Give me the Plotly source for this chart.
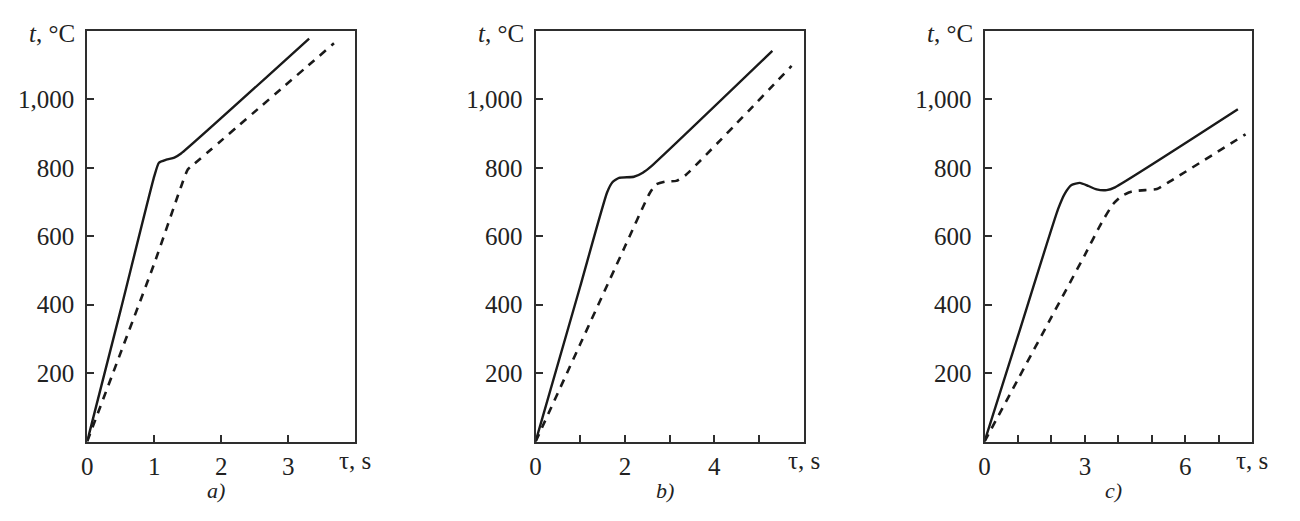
import plotly.graph_objects as go

# ---- data (tau in s, t in °C) ----
a_solid_x = [0, 0.5, 1.0, 1.07, 1.18, 1.3, 1.4, 3.31]
a_solid_y = [0, 385, 775, 815, 824, 830, 842, 1178]
a_dash_x = [0, 0.5, 1.0, 1.4, 1.5, 1.6, 3.68]
a_dash_y = [0, 260, 520, 745, 795, 812, 1164]

b_solid_x = [0, 1.0, 1.6, 1.72, 1.87, 2.2, 2.4, 2.6, 5.30]
b_solid_y = [0, 454, 728, 758, 771, 774, 786, 806, 1142]
b_dash_x = [0, 1.0, 2.0, 2.55, 2.7, 2.9, 3.15, 3.35, 5.73]
b_dash_y = [0, 285, 570, 725, 752, 760, 762, 778, 1098]

c_solid_x = [0, 1.0, 2.2, 2.4, 2.6, 2.85, 3.1, 3.35, 3.65, 3.9, 7.57]
c_solid_y = [0, 309, 680, 725, 750, 756, 747, 737, 735, 743, 971]
c_dash_x = [0, 1.0, 2.0, 3.0, 3.5, 3.85, 4.1, 4.4, 4.8, 5.15, 5.45, 7.8]
c_dash_y = [0, 182, 364, 546, 640, 695, 718, 731, 735, 738, 755, 898]

x_ranges = [[0, 4], [0, 6], [0, 8]]
x_tickvals = [[0, 1, 2, 3], [0, 1, 2, 3, 4, 5], [0, 1, 2, 3, 4, 5, 6, 7]]
x_ticktext = [["0", "1", "2", "3"], ["0", "", "2", "", "4", ""],
              ["0", "", "", "3", "", "", "6", ""]]
y_tickvals = [200, 400, 600, 800, 1000]
y_ticktext = ["200", "400", "600", "800", "1,000"]
panel_labels = ["a)", "b)", "c)"]
y_label = "<i>t</i>, °C"
x_label = "τ, s"

# ---- layout geometry (page body offset compensation) ----
W, H = 1300, 521
OFF_X, OFF_Y = 10, 8
def px_x(X):
    return (X - OFF_X) / W
def px_y(Y):
    return 1 - (Y - OFF_Y) / H

x_domains = [[px_x(83.5), px_x(353)], [px_x(534), px_x(803.3)], [px_x(985), px_x(1254)]]
y_domain = [px_y(441.6), px_y(31)]

FONT = "Liberation Serif"
LINE_COLOR = "#1a1a1a"
AX_COLOR = "#2e2e2e"
TXT = "#222"
FS = 25

fig = go.Figure()
series = [(a_solid_x, a_solid_y, a_dash_x, a_dash_y),
          (b_solid_x, b_solid_y, b_dash_x, b_dash_y),
          (c_solid_x, c_solid_y, c_dash_x, c_dash_y)]

for i, (sx, sy, dx, dy) in enumerate(series):
    xa = "x" if i == 0 else f"x{i+1}"
    ya = "y" if i == 0 else f"y{i+1}"
    fig.add_trace(go.Scatter(x=sx, y=sy, mode="lines", xaxis=xa, yaxis=ya,
                             line=dict(color=LINE_COLOR, width=2.4, shape="spline", smoothing=0.5),
                             showlegend=False, hoverinfo="skip"))
    fig.add_trace(go.Scatter(x=dx, y=dy, mode="lines", xaxis=xa, yaxis=ya,
                             line=dict(color=LINE_COLOR, width=2.6, dash="8px,7px",
                                       shape="spline", smoothing=0.5),
                             showlegend=False, hoverinfo="skip"))

layout = dict(width=W, height=H, margin=dict(l=0, r=0, t=0, b=0),
              paper_bgcolor="white", plot_bgcolor="white",
              font=dict(family=FONT, size=FS, color=TXT))

annotations = []
for i in range(3):
    sfx = "" if i == 0 else str(i + 1)
    layout[f"xaxis{sfx}"] = dict(
        domain=x_domains[i], range=x_ranges[i], anchor=f"y{sfx}",
        showline=True, mirror=True, linecolor=AX_COLOR, linewidth=2,
        ticks="inside", ticklen=7, tickwidth=2, tickcolor=AX_COLOR,
        tickvals=x_tickvals[i], ticktext=x_ticktext[i], ticklabelstandoff=1,
        showgrid=False, zeroline=False, fixedrange=True,
        tickfont=dict(family=FONT, size=FS, color=TXT))
    layout[f"yaxis{sfx}"] = dict(
        domain=y_domain, range=[0, 1200], anchor=f"x{sfx}",
        showline=True, mirror=True, linecolor=AX_COLOR, linewidth=2,
        ticks="inside", ticklen=7, tickwidth=2, tickcolor=AX_COLOR,
        tickvals=y_tickvals, ticktext=y_ticktext, ticklabelstandoff=6,
        showgrid=False, zeroline=False, fixedrange=True,
        tickfont=dict(family=FONT, size=FS, color=TXT))
    x0, x1 = x_domains[i]
    annotations.append(dict(text=y_label, xref="paper", yref="paper",
                            x=x0, y=y_domain[1], xanchor="right", yanchor="middle",
                            xshift=-10, yshift=-2, showarrow=False,
                            font=dict(family=FONT, size=FS, color=TXT)))
    annotations.append(dict(text=x_label, xref="paper", yref="paper",
                            x=x1, y=y_domain[0], xanchor="center", yanchor="top",
                            yshift=-3, showarrow=False,
                            font=dict(family=FONT, size=FS, color=TXT)))
    annotations.append(dict(text=f"<i>{panel_labels[i]}</i>", xref="paper", yref="paper",
                            x=(x0 + x1) / 2 - 5 / W, y=px_y(490), xanchor="center",
                            yanchor="middle", showarrow=False,
                            font=dict(family=FONT, size=22, color=TXT)))
layout["annotations"] = annotations
fig.update_layout(**layout)
fig.write_html("out.html")
